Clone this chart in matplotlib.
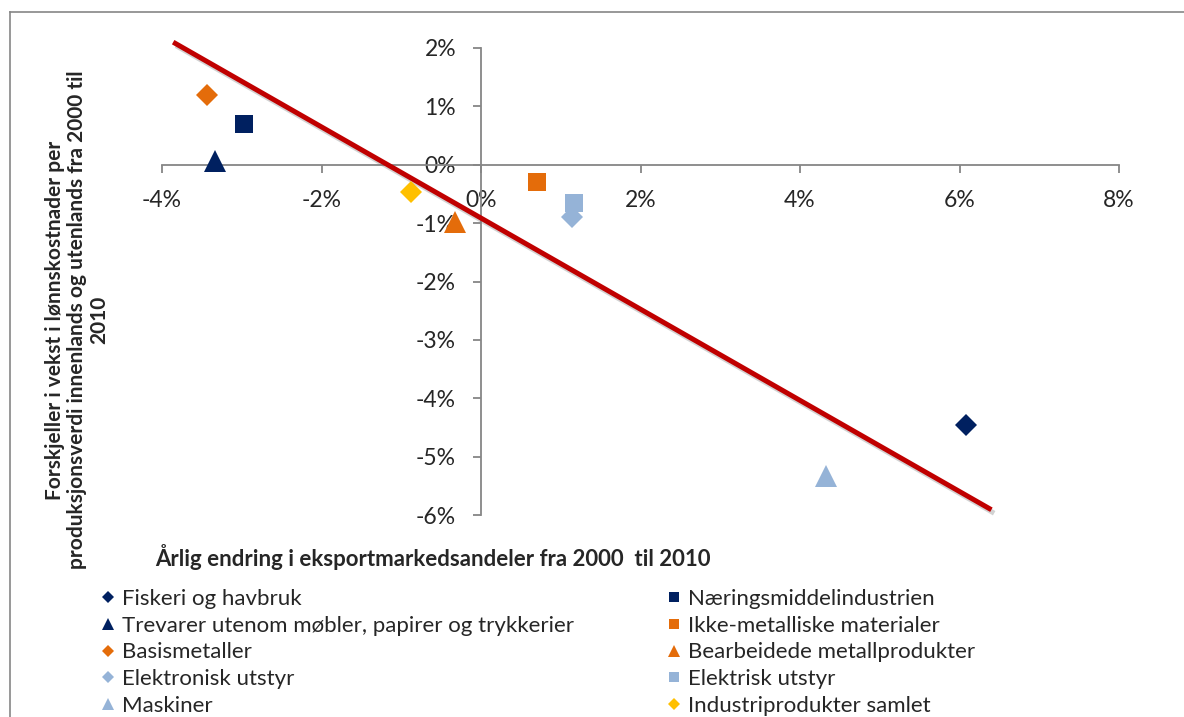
"""
Scatter of export market share change vs. wage cost growth difference, 2000-2010
"""
import matplotlib
matplotlib.use("Agg")
import matplotlib.pyplot as plt
import matplotlib.patheffects as pe
from matplotlib.lines import Line2D
from matplotlib.ticker import FuncFormatter, MultipleLocator

plt.rcParams['font.family'] = ['Lato', 'DejaVu Sans']

W, H = 1184, 717

# series (values in percent)
labels = [
    "Fiskeri og havbruk",
    "Næringsmiddelindustrien",
    "Trevarer utenom møbler, papirer og trykkerier",
    "Ikke-metalliske materialer",
    "Basismetaller",
    "Bearbeidede metallprodukter",
    "Elektronisk utstyr",
    "Elektrisk utstyr",
    "Maskiner",
    "Industriprodukter samlet",
]
x_vals = [6.08, -2.97, -3.33, 0.70, -3.44, -0.33, 1.14, 1.16, 4.33, -0.88]
y_vals = [-4.45, 0.69, 0.07, -0.29, 1.19, -0.98, -0.89, -0.66, -5.34, -0.47]
markers = ["D", "s", "^", "s", "D", "^", "D", "s", "^", "D"]
colors = ["#002060", "#002060", "#002060", "#E46C0A", "#E46C0A",
          "#E46C0A", "#95B3D7", "#95B3D7", "#95B3D7", "#FFC000"]
sizes = {"D": 11.5, "s": 13.5, "^": 16.5}

# trend line end points
trend_x = [-3.86, 6.40]
trend_y = [2.10, -5.91]

x_title = "Årlig endring i eksportmarkedsandeler fra 2000  til 2010"
y_title = ("Forskjeller i vekst i lønnskostnader per\n"
           "produksjonsverdi innenlands og utenlands fra 2000 til\n"
           "2010")

AXIS_GREY = "#868686"
TEXT = "#262626"

fig = plt.figure(figsize=(W / 100, H / 100), dpi=100)
ax = fig.add_axes([162 / W, 1 - 515 / H, 957 / W, 467 / H])
ax.set_xlim(-4, 8)
ax.set_ylim(-6, 2)

for sp in ("top", "right"):
    ax.spines[sp].set_visible(False)
for sp in ("left", "bottom"):
    ax.spines[sp].set_position(("data", 0))
    ax.spines[sp].set_color(AXIS_GREY)
    ax.spines[sp].set_linewidth(1.3)

ax.xaxis.set_major_locator(MultipleLocator(2))
ax.yaxis.set_major_locator(MultipleLocator(1))
pct = FuncFormatter(lambda v, _: f"{v:.0f}%".replace("−", "-"))
ax.xaxis.set_major_formatter(pct)
ax.yaxis.set_major_formatter(pct)
ax.tick_params(axis="both", direction="out", length=6, width=1.3,
               color=AXIS_GREY, labelsize=16.5, labelcolor=TEXT)
ax.tick_params(axis="x", pad=12)
ax.tick_params(axis="y", pad=12)

handles = []
for lab, xv, yv, m, c in zip(labels, x_vals, y_vals, markers, colors):
    ax.plot([xv], [yv], linestyle="none", marker=m, markersize=sizes[m],
            color=c, markeredgewidth=0, zorder=4, clip_on=False)
    handles.append(Line2D([], [], linestyle="none", marker=m,
                          markersize=sizes[m] * 0.5, color=c,
                          markeredgewidth=0, label=lab))

ax.plot(trend_x, trend_y, color="#C00000", linewidth=3.6, solid_capstyle="butt",
        zorder=3, clip_on=False,
        path_effects=[pe.SimpleLineShadow(offset=(2, -2.5), shadow_color="#7f7f7f", alpha=0.35),
                      pe.Normal()])

# legend in two columns (row-major order like the original)
leg_kw = dict(frameon=False, fontsize=16, handlelength=0.6, handletextpad=0.35,
              labelspacing=0.3, borderpad=0, borderaxespad=0, labelcolor=TEXT,
              loc="upper left")
leg1 = fig.legend(handles=handles[0::2], bbox_to_anchor=(101 / W, 1 - 589 / H), **leg_kw)
leg2 = fig.legend(handles=handles[1::2], bbox_to_anchor=(667 / W, 1 - 589 / H), **leg_kw)

fig.text(155 / W, 1 - 557 / H, x_title, fontsize=16, fontweight="bold",
         color=TEXT, ha="left", va="center")
fig.text(77 / W, 1 - 320 / H, y_title, fontsize=15, fontweight="bold",
         color=TEXT, ha="center", va="center", rotation=90,
         multialignment="center", linespacing=1.15)

# outer chart frame
fig.add_artist(Line2D([10 / W, 1], [1 - 12 / H, 1 - 12 / H], transform=fig.transFigure,
                      color=AXIS_GREY, linewidth=1.2))
fig.add_artist(Line2D([10 / W, 10 / W], [0, 1 - 12 / H], transform=fig.transFigure,
                      color=AXIS_GREY, linewidth=1.2))

fig.savefig("out.png", dpi=100)
